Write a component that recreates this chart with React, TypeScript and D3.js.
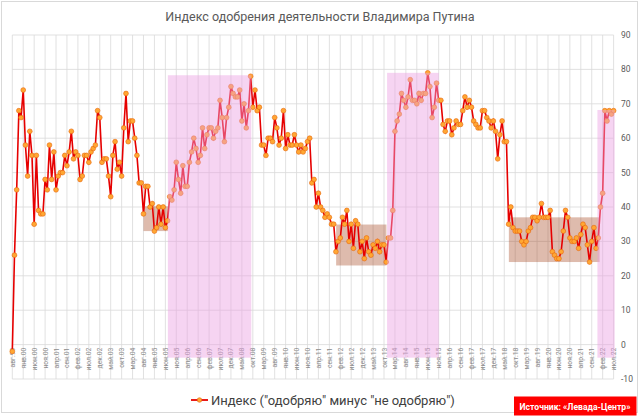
import * as d3 from "d3";

const W = 640, H = 419;

// x-axis category labels (every 5th month, Aug 1999 .. Jul 2022)
const tickLabels = [
  "авг.99", "янв.00", "июн.00", "ноя.00", "апр.01", "сен.01", "фев.02", "июл.02",
  "дек.02", "май.03", "окт.03", "мар.04", "авг.04", "янв.05", "июн.05", "ноя.05",
  "апр.06", "сен.06", "фев.07", "июл.07", "дек.07", "май.08", "окт.08", "мар.09",
  "авг.09", "янв.10", "июн.10", "ноя.10", "апр.11", "сен.11", "фев.12", "июл.12",
  "дек.12", "май.13", "окт.13", "мар.14", "авг.14", "янв.15", "июн.15", "ноя.15",
  "апр.16", "сен.16", "фев.17", "июл.17", "дек.17", "май.18", "окт.18", "мар.19",
  "авг.19", "янв.20", "июн.20", "ноя.20", "апр.21", "сен.21", "фев.22", "июл.22",
];
const tickStep = 5;

// monthly index: approve minus disapprove
const index = [
  -2, 26, 45, 68, 66, 74, 58, 49, 62, 55,
  35, 55, 39, 38, 38, 48, 45, 58, 48, 56,
  45, 49, 50, 50, 55, 52, 56, 62, 54, 56,
  55, 48, 49, 55, 55, 53, 56, 57, 58, 68,
  66, 53, 54, 54, 49, 43, 55, 59, 51, 53,
  49, 63, 73, 59, 65, 65, 60, 55, 47, 47,
  38, 46, 46, 40, 41, 33, 34, 40, 35, 40,
  34, 36, 43, 42, 45, 53, 48, 44, 52, 46,
  46, 53, 56, 60, 57, 53, 55, 63, 57, 61,
  63, 63, 60, 62, 63, 71, 66, 59, 66, 69,
  75, 73, 72, 72, 74, 65, 70, 63, 68, 78,
  69, 74, 68, 69, 58, 58, 55, 60, 60, 59,
  66, 63, 58, 60, 68, 57, 61, 58, 58, 61,
  58, 56, 58, 56, 57, 59, 60, 47, 48, 40,
  44, 40, 39, 37, 38, 37, 35, 35, 27, 30,
  31, 37, 35, 39, 30, 35, 28, 36, 35, 27,
  30, 25, 31, 27, 26, 29, 28, 30, 27, 29,
  29, 24, 31, 31, 39, 62, 65, 67, 73, 71,
  69, 72, 77, 71, 71, 70, 73, 71, 73, 73,
  79, 75, 66, 69, 76, 71, 71, 64, 62, 65,
  65, 61, 63, 65, 64, 64, 68, 72, 69, 71,
  69, 65, 64, 63, 63, 68, 68, 66, 65, 63,
  65, 62, 54, 61, 65, 59, 59, 35, 40, 34,
  33, 33, 33, 30, 29, 30, 33, 34, 37, 37,
  36, 37, 41, 37, 37, 37, 39, 27, 26, 25,
  25, 27, 33, 39, 37, 31, 30, 30, 31, 28,
  32, 35, 34, 29, 24, 30, 34, 28, 31, 40,
  44, 68, 65, 68, 67, 68,
];

// shaded periods, in month positions and index values
const boxFrom = [60, 148.1, 227.1];
const boxTo = [71.15, 171.1, 268.6];
const boxLow = [33, 23, 24];
const boxHigh = [40.2, 34.9, 37];

const bandFrom = [71.15, 171.4, 267.6];
const bandTo = [109.3, 195.05, 275.5];
const bandHigh = [78.3, 79, 68.2];
const bandLow = -3.8;

const yTicks = [-10, 0, 10, 20, 30, 40, 50, 60, 70, 80, 90];

const x = d3.scaleLinear([0, index.length - 1], [12.3, 613.6]);
const y = d3.scaleLinear([-10, 90], [379, 35]);

export default function App() {
  const line = d3.line<number>().x((_, i) => x(i)).y((v) => y(v));
  const grey = "#d9d9d9";
  const font = "Roboto, 'Open Sans', sans-serif";

  return (
    <svg width={W} height={H} style={{ position: "absolute", left: 0, top: 0, background: "#fff" }}>
      <rect x={1.5} y={1.5} width={636} height={411} fill="#fff" stroke={grey} />

      <text x={W / 2} y={21} textAnchor="middle" fontFamily={font} fontSize={12.5} fill="#595959">
        Индекс одобрения деятельности Владимира Путина
      </text>

      {/* grid */}
      {yTicks.map((t) => (
        <line key={"h" + t} x1={x(0)} x2={x(index.length - 1)} y1={y(t)} y2={y(t)} stroke={grey} strokeWidth={0.8} />
      ))}
      {tickLabels.map((_, k) => (
        <line key={"v" + k} x1={x(k * tickStep)} x2={x(k * tickStep)} y1={y(90)} y2={y(-10)} stroke={grey} strokeWidth={0.8} />
      ))}

      {/* right axis labels */}
      {yTicks.map((t) => (
        <text key={"yl" + t} x={621} y={y(t) + 3} fontFamily={font} fontSize={8.5} fill="#595959">
          {t}
        </text>
      ))}

      {/* category labels */}
      {tickLabels.map((lab, k) => (
        <text key={"xl" + k} transform={`translate(${x(k * tickStep) + 2.5},${y(0) + 3}) rotate(-90)`}
          textAnchor="end" fontFamily={font} fontSize={6.8} fill="#8c8c8c">
          {lab}
        </text>
      ))}

      {/* boxes behind the line */}
      {boxFrom.map((f, k) => (
        <rect key={"b" + k} x={x(f)} width={x(boxTo[k]) - x(f)} y={y(boxHigh[k])}
          height={y(boxLow[k]) - y(boxHigh[k])} fill="rgb(160,60,20)" fillOpacity={0.35} />
      ))}

      <path d={line(index) ?? ""} fill="none" stroke="#e60000" strokeWidth={1.6} />
      {index.map((v, i) => (
        <circle key={"p" + i} cx={x(i)} cy={y(v)} r={2.4} fill="#ffa733" stroke="#e8650a" strokeWidth={0.6} />
      ))}

      {/* bands over the line */}
      {bandFrom.map((f, k) => (
        <rect key={"s" + k} x={x(f)} width={x(bandTo[k]) - x(f)} y={y(bandHigh[k])}
          height={y(bandLow) - y(bandHigh[k])} fill="#ea9fe2" fillOpacity={0.45} />
      ))}

      {/* legend */}
      <line x1={191} x2={208} y1={400} y2={400} stroke="#e60000" strokeWidth={1.8} />
      <circle cx={199.5} cy={400} r={2.3} fill="#ffa733" stroke="#e8650a" strokeWidth={0.6} />
      <text x={211} y={404.5} fontFamily={font} fontSize={13} fill="#404040">
        Индекс ("одобряю" минус "не одобряю")
      </text>

      {/* source */}
      <rect x={514} y={396.5} width={122.5} height={19} fill="#ff0000" />
      <text x={575} y={409.5} textAnchor="middle" fontFamily={font} fontSize={8.6} fontWeight={700} fill="#fff">
        Источник: «Левада-Центр»
      </text>
    </svg>
  );
}
